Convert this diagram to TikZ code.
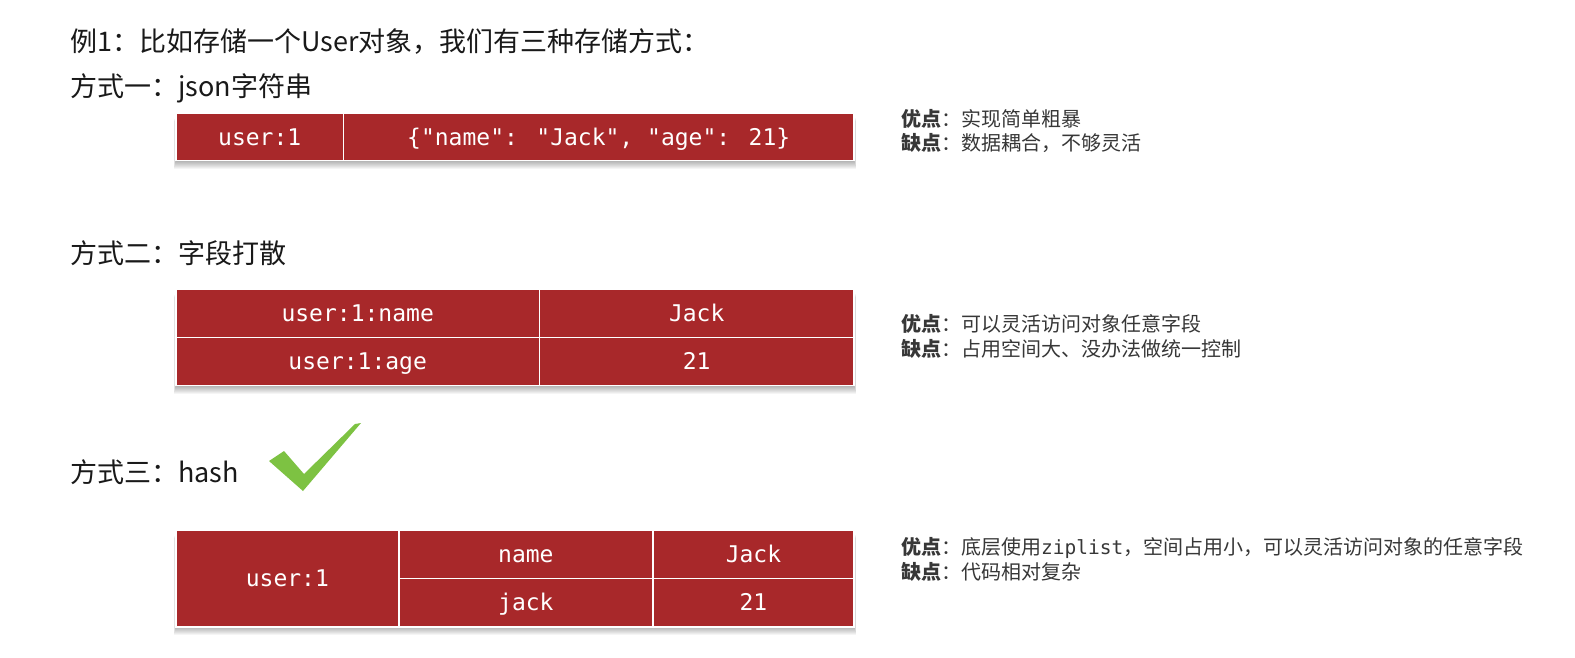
\documentclass[tikz,border=0pt]{standalone}
\usepackage{fontspec}
\usetikzlibrary{calc}
\newfontfamily\cjk{Noto Sans CJK SC}
\newfontfamily\mono{DejaVu Sans Mono}
\definecolor{tabred}{RGB}{168,40,42}
\definecolor{chk}{RGB}{125,194,66}
\definecolor{notec}{RGB}{55,55,55}
\definecolor{ttl}{RGB}{25,25,25}
\tikzset{
  cell/.style={draw=white, line width=1.4pt, fill=tabred, text=white,
    font=\mono\fontsize{23}{26}\selectfont, inner sep=0pt, outer sep=0pt, anchor=north west,
    text depth=0pt, text height=16pt},
  head/.style={anchor=west, inner sep=0pt, text=ttl, font=\cjk\fontsize{27}{30}\selectfont},
  notetext/.style={anchor=west, inner sep=0pt, text=notec, font=\cjk\fontsize{20}{24}\selectfont},
  shade/.style={black, opacity=0.04}
}
\begin{document}
\begin{tikzpicture}[x=1pt,y=-1pt]
\fill[white] (0,0) rectangle (1575,658);
\useasboundingbox (0,0) rectangle (1575,658);

% headings
\node[head] (title) at (70,42) {例1：比如存储一个User对象，我们有三种存储方式：};
\node[head] (h1) at (70,88.5) {方式一：json字符串};
\node[head] (h2) at (70,253) {方式二：字段打散};
\node[head] (h3) at (70,472) {方式三：hash};

% check mark
\fill[chk] (269,461) -- (284,451) -- (304,474) -- (355,424) -- (361,423) -- (303,491) -- cycle;

% ---- table 1 ----
\coordinate (s1a) at (176,113.5);
\coordinate (s1b) at (854,160.7);
\foreach \d in {1,...,8}{
  \fill[shade] ($(s1a)+(-\d*0.3,\d)$) rectangle ($(s1b)+(\d*0.3,\d)$);
}
\node[cell, minimum width=167.5pt, minimum height=47.2pt] (t1k) at (176,113.5) {user:1};
\node[cell, minimum width=510.5pt, minimum height=47.2pt] (t1v) at (343.5,113.5) {\{"name": "Jack", "age": 21\}};

% ---- table 2 ----
\coordinate (s2a) at (176,289.3);
\coordinate (s2b) at (854,385.7);
\foreach \d in {1,...,8}{
  \fill[shade] ($(s2a)+(-\d*0.3,\d)$) rectangle ($(s2b)+(\d*0.3,\d)$);
}
\node[cell, minimum width=363.4pt, minimum height=48.2pt] (t2k1) at (176,289.3) {user:1:name};
\node[cell, minimum width=314.6pt, minimum height=48.2pt] (t2v1) at (539.4,289.3) {Jack};
\node[cell, minimum width=363.4pt, minimum height=48.2pt] (t2k2) at (176,337.5) {user:1:age};
\node[cell, minimum width=314.6pt, minimum height=48.2pt] (t2v2) at (539.4,337.5) {21};

% ---- table 3 ----
\coordinate (s3a) at (176,530.4);
\coordinate (s3b) at (854,626.8);
\foreach \d in {1,...,8}{
  \fill[shade] ($(s3a)+(-\d*0.3,\d)$) rectangle ($(s3b)+(\d*0.3,\d)$);
}
\node[cell, minimum width=222.8pt, minimum height=96.4pt] (t3k) at (176,530.4) {user:1};
\node[cell, minimum width=254.1pt, minimum height=48.2pt] (t3f1) at (398.8,530.4) {name};
\node[cell, minimum width=201.1pt, minimum height=48.2pt] (t3v1) at (652.9,530.4) {Jack};
\node[cell, minimum width=254.1pt, minimum height=48.2pt] (t3f2) at (398.8,578.6) {jack};
\node[cell, minimum width=201.1pt, minimum height=48.2pt] (t3v2) at (652.9,578.6) {21};

% ---- notes ----
\node[notetext] (n1a) at (901,118.5) {{\bfseries 优点}：实现简单粗暴};
\node[notetext] (n1b) at (901,143) {{\bfseries 缺点}：数据耦合，不够灵活};
\node[notetext] (n2a) at (901,323.5) {{\bfseries 优点}：可以灵活访问对象任意字段};
\node[notetext] (n2b) at (901,348.5) {{\bfseries 缺点}：占用空间大、没办法做统一控制};
\node[notetext] (n3a) at (901,547.5) {{\bfseries 优点}：底层使用{\mono\fontsize{19.5}{24}\selectfont ziplist}，空间占用小，可以灵活访问对象的任意字段};
\node[notetext] (n3b) at (901,571.5) {{\bfseries 缺点}：代码相对复杂};
\end{tikzpicture}
\end{document}
